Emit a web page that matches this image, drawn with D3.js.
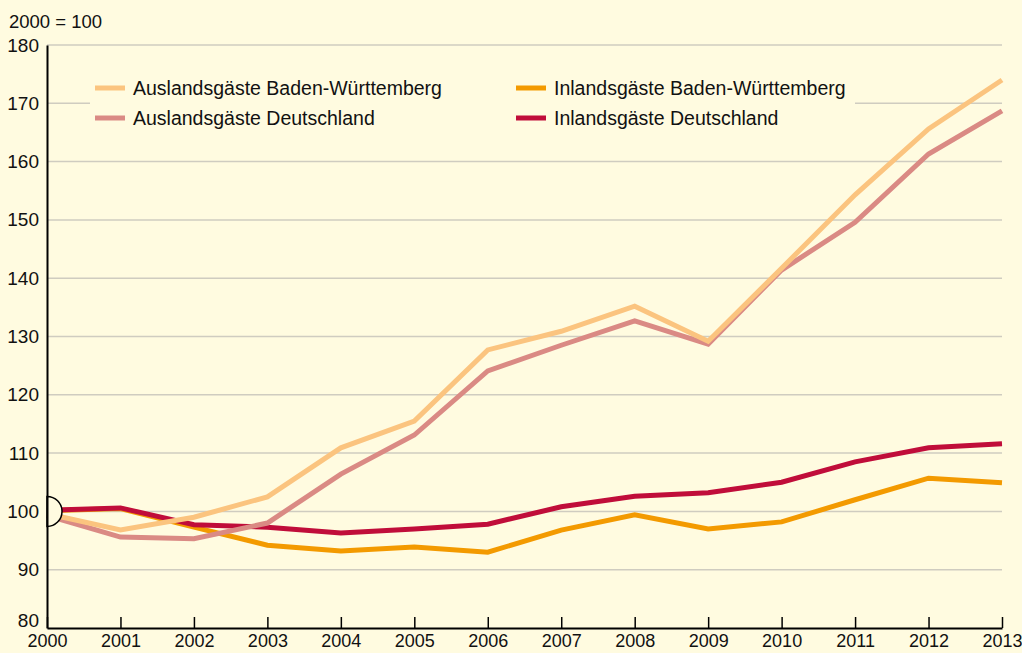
<!DOCTYPE html>
<html>
<head>
<meta charset="utf-8">
<script src="https://cdn.jsdelivr.net/npm/d3@7"></script>
<style>
  html, body { margin: 0; padding: 0; background: #fffbe0; }
  svg { display: block; font-family: "Liberation Sans", Arial, sans-serif; }
</style>
</head>
<body>
<div id="chart"></div>
<script>
// data (index, 2000 = 100)
const years = [2000, 2001, 2002, 2003, 2004, 2005, 2006, 2007, 2008, 2009, 2010, 2011, 2012, 2013];
const auslandBW = [99.6, 96.8, 99.0, 102.5, 110.9, 115.5, 127.7, 130.9, 135.2, 129.2, 141.7, 154.3, 165.6, 174.0];
const auslandDE = [99.3, 95.6, 95.3, 98.0, 106.4, 113.1, 124.1, 128.5, 132.7, 128.7, 141.4, 149.6, 161.3, 168.7];
const inlandBW = [100.1, 100.5, 97.3, 94.2, 93.2, 93.9, 93.0, 96.8, 99.4, 97.0, 98.2, 102.0, 105.7, 104.9];
const inlandDE = [100.2, 100.6, 97.7, 97.3, 96.3, 97.0, 97.8, 100.8, 102.6, 103.2, 105.0, 108.5, 110.9, 111.6];
const yTicks = [80, 90, 100, 110, 120, 130, 140, 150, 160, 170, 180];

// drawing order: bottom first
const series = [
  { name: "Inlandsgäste Baden-Württemberg", values: inlandBW, color: "#f39a00" },
  { name: "Inlandsgäste Deutschland", values: inlandDE, color: "#c00d3a" },
  { name: "Auslandsgäste Deutschland", values: auslandDE, color: "#da8a84" },
  { name: "Auslandsgäste Baden-Württemberg", values: auslandBW, color: "#fbc47f" }
];

const width = 1022, height = 653;
const bg = "#fffbe0";
const margin = { left: 47, right: 20, top: 45, bottom: 25 };

const svg = d3.select("#chart").append("svg")
  .attr("width", width)
  .attr("height", height);

svg.append("rect").attr("width", width).attr("height", height).attr("fill", bg);

const x = d3.scaleLinear()
  .domain([2000, 2013])
  .range([margin.left, width - margin.right]);

const y = d3.scaleLinear()
  .domain([80, 180])
  .range([height - margin.bottom, margin.top]);

// grid lines
svg.append("g")
  .selectAll("line")
  .data(yTicks.filter(d => d > 80))
  .join("line")
  .attr("x1", x(2000))
  .attr("x2", x(2013))
  .attr("y1", d => y(d))
  .attr("y2", d => y(d))
  .attr("stroke", "#cfccc0")
  .attr("stroke-width", 1.5);

// legend box hides the grid lines behind it
svg.append("rect")
  .attr("x", 90).attr("y", 68)
  .attr("width", 765).attr("height", 74)
  .attr("fill", bg);

// lines
const line = d3.line()
  .x((d, i) => x(years[i]))
  .y(d => y(d));

svg.append("g")
  .selectAll("path")
  .data(series)
  .join("path")
  .attr("d", d => line(d.values))
  .attr("fill", "none")
  .attr("stroke", d => d.color)
  .attr("stroke-width", 5)
  .attr("stroke-linejoin", "miter");

// base marker at 2000 = 100
svg.append("path")
  .attr("d", d3.arc()({ innerRadius: 0, outerRadius: 15, startAngle: 0, endAngle: Math.PI }))
  .attr("transform", `translate(${x(2000)},${y(100)})`)
  .attr("fill", bg)
  .attr("stroke", "#000")
  .attr("stroke-width", 1.5);

// y axis
const yAxis = svg.append("g")
  .attr("transform", `translate(${margin.left},0)`)
  .call(d3.axisLeft(y).tickValues(yTicks).tickSize(0).tickPadding(8));
yAxis.select(".domain").attr("stroke", "#000").attr("stroke-width", 2);
yAxis.selectAll("text").attr("font-size", 19).attr("fill", "#111")
  .attr("font-family", "Liberation Sans, Arial, sans-serif");
yAxis.selectAll(".tick").filter(d => d === 80).select("text").attr("dy", "-0.1em");

// x axis, ticks point upwards
const xAxis = svg.append("g")
  .attr("transform", `translate(0,${height - margin.bottom})`)
  .call(d3.axisBottom(x).tickValues(years).tickFormat(d3.format("d")).tickSize(-11).tickSizeOuter(0).tickPadding(6));
xAxis.select(".domain").attr("stroke", "#000").attr("stroke-width", 2);
xAxis.selectAll(".tick line").attr("stroke", "#000").attr("stroke-width", 1.5);
xAxis.selectAll("text").attr("font-size", 18).attr("fill", "#111")
  .attr("font-family", "Liberation Sans, Arial, sans-serif");

// unit label
svg.append("text")
  .attr("x", 9).attr("y", 28)
  .attr("font-size", 18.5).attr("fill", "#111")
  .text("2000 = 100");

// legend
const legendItems = [
  { s: series[3], lx: 95, ly: 88 },
  { s: series[2], lx: 95, ly: 118 },
  { s: series[0], lx: 516, ly: 88 },
  { s: series[1], lx: 516, ly: 118 }
];
const lg = svg.append("g").selectAll("g").data(legendItems).join("g")
  .attr("transform", d => `translate(${d.lx},${d.ly})`);
lg.append("line")
  .attr("x1", 0).attr("x2", 30)
  .attr("stroke", d => d.s.color)
  .attr("stroke-width", 5);
lg.append("text")
  .attr("x", 38).attr("y", 7)
  .attr("font-size", 19.5).attr("fill", "#111")
  .text(d => d.s.name);
</script>
</body>
</html>
